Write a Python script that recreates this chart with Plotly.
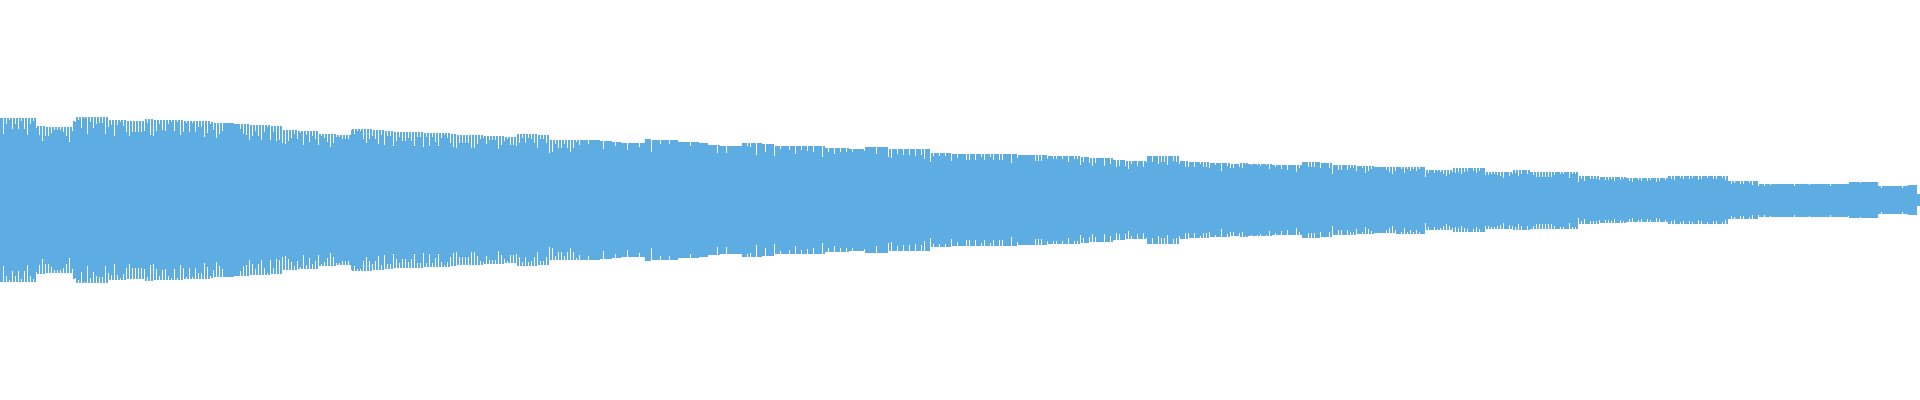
import plotly.graph_objects as go

# ---------------- data ----------------
N_BARS = 640  # number of waveform bars

# envelope plateaus: first bar index of each plateau and its peak amplitude
seg_start = [0, 12, 15, 24, 25, 36, 42, 48, 51, 61, 70, 71, 78, 83, 90, 94, 99, 106,
             112, 117, 124, 128, 131, 141, 150, 152, 161, 168, 172, 179, 183, 200, 204,
             207, 213, 215, 217, 226, 233, 236, 240, 247, 254, 258, 275, 283, 288, 296,
             310, 317, 339, 349, 360, 363, 371, 375, 382, 393, 396, 403, 410, 413, 416,
             424, 434, 440, 444, 452, 458, 465, 475, 484, 495, 504, 510, 526, 533, 542,
             556, 576, 586, 616, 626, 636, 639]
seg_peak = [82, 74.3, 73, 78.7, 83, 80, 79, 81, 80, 79, 78, 77.3, 76.3, 75, 74.3, 70, 69, 66,
            65, 71, 70, 69, 68, 67, 66, 65, 64, 63, 66, 65, 60, 59, 58,
            57, 57, 61, 60, 58, 57, 55, 54, 57, 56, 54, 52, 51, 53, 51,
            47, 46, 45, 44, 43, 42, 40, 39, 44, 39, 38, 37, 36, 37, 36,
            35, 38, 37, 35, 34, 33, 33.5, 30, 32, 28.5, 30, 28.5, 24, 23, 22,
            24, 19, 16.5, 18, 14, 15, 6]

# notch depth (below the peak) at bar boundaries 1..213
notch_left = [16, 6, 2, 11, 6, 11, 3, 11, 17, 6, 3, 2, 9, 15, 9, 9, 6, 3, 3, 3, 5, 9, 15, 10,
              5, 3, 11, 1, 17, 5, 11, 7, 6, 6, 17, 7, 5, 16, 5, 2, 6, 11, 15, 11, 11, 11, 11, 12,
              4, 16, 16, 11, 4, 10, 11, 4, 2, 11, 2, 15, 11, 2, 11, 2, 11, 6, 6, 16, 12, 2, 7, 15,
              11, 8, 0, 0, 0, 0, 0, 5, 10, 11, 15, 11, 6, 11, 15, 7, 2, 14, 6, 15, 14, 13, 14, 11,
              8, 4, 8, 2, 14, 4, 11, 5, 8, 11,
              2, 4, 8, 13, 9, 2, 2, 4, 4, 4, 1, 5, 2, 2, 10, 14, 10, 6, 9, 14, 5, 14, 5, 5, 14, 9,
              5, 9, 9, 6, 9, 14, 5, 5, 14, 4, 13, 4, 9, 13, 5, 2, 5, 9, 13, 13, 8, 8, 8, 8, 13, 13,
              9, 4, 2, 8, 4, 4, 4, 13, 9, 4, 2, 8, 8, 12, 9, 4, 9, 4, 5, 9, 13, 4, 4, 8, 13, 12,
              4, 8, 8, 4, 8, 12, 8, 2, 5, 0, 0, 4, 0, 0, 0, 0, 8, 0, 0, 0, 4, 0, 0, 0, 7, 0, 0, 0, 4]

# notch depths at later boundaries (sparse)
notch_bar = [217, 220, 223, 230, 239, 242, 247, 249, 250, 252, 255, 258, 260, 263, 265, 267, 269,
             271, 274, 276, 278, 280, 282, 284, 288, 292, 296, 297, 299, 301, 303, 305, 307, 308,
             310, 311, 313, 315, 317, 319,
             322, 323, 325, 327, 328, 330, 331, 333, 334, 337, 339, 345, 346, 347, 349, 351, 352,
             354, 356, 358, 359, 360, 361, 363, 364, 365, 368, 370, 372, 373, 375, 376, 377, 379,
             381, 382, 384, 386, 387, 388, 389, 391, 392, 393, 395, 396, 398, 400, 401, 402, 403,
             405, 407, 409, 410, 411, 413, 414, 415, 417, 419, 420, 422, 423, 425,
             427, 429, 432, 433, 436, 437, 438, 440, 443, 444, 446, 447, 449, 450, 451, 452, 454,
             455, 456, 457, 462, 463, 464, 465, 467, 468, 469, 470, 471, 472, 473, 475, 476, 478,
             479, 480, 481, 482, 483, 484, 485, 486, 487, 488, 489, 491, 492, 493, 495, 496, 497,
             498, 499, 500, 501, 503, 504, 505, 506, 507, 509, 511, 512, 513, 514, 515, 516, 517,
             518, 520, 521, 523, 524, 525, 526, 527, 528, 530, 531, 532, 533, 535,
             536, 537, 538, 540, 541, 543, 544, 546, 547, 549, 550, 552, 553, 555, 557, 558, 560,
             561, 563, 564, 566, 567, 569, 571, 572, 574, 575, 577, 578, 580, 581, 583, 584, 586,
             588, 590, 598, 603, 610, 616, 620, 627, 634]
notch_depth = [12, 4, 4, 4, 8, 7, 3, 3, 4, 12, 8, 10, 3, 4, 8, 4, 5,
               6, 11, 4, 6, 4, 4, 3, 4, 7, 8, 9, 5, 6, 6, 7, 6, 10,
               9, 3, 3, 3, 7, 4,
               6, 6, 6, 3, 6, 3, 6, 6, 6, 9, 3, 6, 6, 6, 3, 3, 3,
               3, 6, 3, 3, 8, 5, 5, 8, 5, 8, 6, 7, 6, 5, 8, 3, 5,
               6, 6, 6, 8, 6, 6, 9, 5, 6, 3, 6, 5, 5, 2, 5, 5, 5,
               2, 8, 3, 4, 4, 4, 5, 1, 1, 1, 2, 1, 5, 2,
               4, 5, 7, 3, 5, 5, 5, 5, 5, 9, 5, 5, 5, 3, 3, 5, 2,
               7, 5, 3, 3, 5, 7, 4, 2, 6, 2, 4, 2, 4, 2, 7, 3, 3,
               1, 2, 4, 6, 4, 4, 5, 4, 6, 4, 3, 3, 5, 3, 3, 3, 2,
               2, 3, 4, 6, 4, 4, 3, 6, 4, 4, 3, 5, 5, 5, 5, 5, 5,
               3, 2, 2, 6, 2, 2, 6, 3, 5, 3, 3, 3, 3, 3,
               3, 2, 4, 3, 2, 3, 4, 2, 3, 3, 2, 4, 3, 2, 3, 4, 2,
               3, 3, 2, 4, 3, 2, 3, 3, 2, 4, 3, 2, 3, 3, 2, 4, 2,
               2, 1, 2, 1, 2, 2, 1, 2, 2]

# ---------------- build ----------------
peak = []
j = 0
for i in range(N_BARS):
    while j + 1 < len(seg_start) and seg_start[j + 1] <= i:
        j += 1
    peak.append(seg_peak[j])

notches = {k + 1: d for k, d in enumerate(notch_left) if d > 0}
notches.update({k: d for k, d in zip(notch_bar, notch_depth) if d > 0})
nk = sorted(notches)

BLUE = "#5DADE2"
x = list(range(N_BARS))

fig = go.Figure()
fig.add_trace(go.Bar(
    x=x, y=[2 * p for p in peak], base=[-p for p in peak], width=1.0,
    marker=dict(color=BLUE, line=dict(width=0)), hoverinfo="skip"))

# white boundary gaps between bars, running inward from the envelope
nx = [k - 0.5 + 1 / 6 for k in nk]
tops = [max(peak[k - 1], peak[k]) + 2 for k in nk]
lows = [peak[k] - notches[k] for k in nk]
lens = [t - l for t, l in zip(tops, lows)]
fig.add_trace(go.Bar(x=nx, y=lens, base=lows, width=0.2,
                     marker=dict(color="white", line=dict(width=0)), hoverinfo="skip"))
fig.add_trace(go.Bar(x=nx, y=lens, base=[-t for t in tops], width=0.2,
                     marker=dict(color="white", line=dict(width=0)), hoverinfo="skip"))

fig.update_layout(
    barmode="overlay", bargap=0, width=1920, height=400,
    margin=dict(l=0, r=0, t=0, b=0),
    paper_bgcolor="white", plot_bgcolor="white", showlegend=False,
    xaxis=dict(range=[-0.5, N_BARS - 0.5], visible=False),
    yaxis=dict(range=[-200, 200], visible=False),
)
fig.write_html("out.html", config={"displayModeBar": False},
               post_script="document.body.style.margin='0';document.body.style.overflow='hidden';")
